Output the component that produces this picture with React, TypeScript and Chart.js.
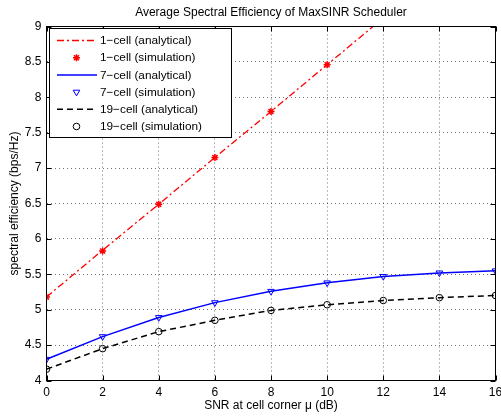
import React, { useEffect, useRef } from 'react';
import { Chart, registerables } from 'chart.js';
import { drawPoint } from 'chart.js/helpers';

Chart.register(...registerables);

const snrDb = [0, 2, 4, 6, 8, 10, 12, 14, 16];
const oneCellAnalytical = [5.18, 5.84, 6.49, 7.15, 7.8, 8.46, 9.12, 9.78, 10.43];
const oneCellSimulation = [5.18, 5.83, 6.49, 7.15, 7.8, 8.46, 9.12, 9.78, 10.43];
const sevenCellAnalytical = [4.3, 4.62, 4.89, 5.1, 5.26, 5.38, 5.47, 5.52, 5.55];
const sevenCellSimulation = [4.3, 4.62, 4.89, 5.1, 5.26, 5.38, 5.47, 5.52, 5.55];
const nineteenCellAnalytical = [4.16, 4.45, 4.69, 4.85, 4.99, 5.07, 5.13, 5.17, 5.2];
const nineteenCellSimulation = [4.16, 4.45, 4.69, 4.85, 4.99, 5.07, 5.13, 5.17, 5.2];
const xTicks = [0, 2, 4, 6, 8, 10, 12, 14, 16];
const yTicks = [4, 4.5, 5, 5.5, 6, 6.5, 7, 7.5, 8, 8.5, 9];
const legendLabels = [
  '1\u2212cell (analytical)',
  '1\u2212cell (simulation)',
  '7\u2212cell (analytical)',
  '7\u2212cell (simulation)',
  '19\u2212cell (analytical)',
  '19\u2212cell (simulation)',
];

const FONT = '"Liberation Sans", Arial, Helvetica, sans-serif';

const pts = (ys: number[]) => snrDb.map((x, i) => ({ x, y: ys[i] }));

const framePlugin = {
  id: 'frameAndLegend',
  afterDatasetsDraw(chart: any) {
    const { ctx, chartArea: a, scales } = chart;
    ctx.save();
    ctx.strokeStyle = '#000';
    ctx.lineWidth = 1;
    ctx.setLineDash([]);
    ctx.beginPath();
    xTicks.forEach((v) => {
      const px = Math.round(scales.x.getPixelForValue(v)) + 0.5;
      ctx.moveTo(px, a.bottom);
      ctx.lineTo(px, a.bottom - 5);
      ctx.moveTo(px, a.top);
      ctx.lineTo(px, a.top + 5);
    });
    yTicks.forEach((v) => {
      const py = Math.round(scales.y.getPixelForValue(v)) + 0.5;
      ctx.moveTo(a.left, py);
      ctx.lineTo(a.left + 5, py);
      ctx.moveTo(a.right, py);
      ctx.lineTo(a.right - 5, py);
    });
    ctx.stroke();
    ctx.strokeRect(a.left, a.top, a.right - a.left, a.bottom - a.top);

    // legend
    const bx = 49.5, by = 28.5, bw = 182, bh = 109;
    ctx.fillStyle = '#fff';
    ctx.fillRect(bx, by, bw, bh);
    ctx.strokeStyle = '#000';
    ctx.lineWidth = 1;
    ctx.strokeRect(bx, by, bw, bh);
    const ds = chart.data.datasets;
    ctx.font = '11.8px ' + FONT;
    ctx.textBaseline = 'middle';
    ctx.textAlign = 'left';
    for (let i = 0; i < legendLabels.length; i++) {
      const y = 40.5 + i * 17.2;
      const d = ds[i];
      if (d.showLine !== false) {
        ctx.save();
        ctx.strokeStyle = d.borderColor;
        ctx.lineWidth = d.borderWidth;
        ctx.setLineDash(d.borderDash || []);
        ctx.beginPath();
        ctx.moveTo(57, y);
        ctx.lineTo(97, y);
        ctx.stroke();
        ctx.restore();
      } else {
        ctx.save();
        ctx.strokeStyle = d.pointBorderColor;
        ctx.fillStyle = 'rgba(0,0,0,0)';
        ctx.lineWidth = d.pointBorderWidth;
        drawPoint(ctx, {
          pointStyle: d.pointStyle,
          radius: d.pointRadius,
          rotation: d.pointRotation || 0,
          borderWidth: d.pointBorderWidth,
        } as any, 76.5, y);
        ctx.restore();
      }
      ctx.fillStyle = '#000';
      ctx.fillText(legendLabels[i], 100, y + 0.5);
    }
    ctx.restore();
  },
};

export default function App() {
  const ref = useRef<HTMLCanvasElement>(null);
  useEffect(() => {
    if (!ref.current) return;
    const chart = new Chart(ref.current, {
      type: 'scatter',
      data: {
        datasets: [
          {
            label: legendLabels[0],
            data: pts(oneCellAnalytical),
            showLine: true,
            borderColor: '#ff0000',
            borderWidth: 1.3,
            borderDash: [7, 3, 2, 3],
            pointRadius: 0,
          },
          {
            label: legendLabels[1],
            data: pts(oneCellSimulation),
            showLine: false,
            pointStyle: 'star',
            pointRadius: 3.5,
            pointBorderColor: '#ff0000',
            pointBackgroundColor: 'rgba(0,0,0,0)',
            pointBorderWidth: 1.5,
          },
          {
            label: legendLabels[2],
            data: pts(sevenCellAnalytical),
            showLine: true,
            borderColor: '#0000ff',
            borderWidth: 1.5,
            pointRadius: 0,
          },
          {
            label: legendLabels[3],
            data: pts(sevenCellSimulation),
            showLine: false,
            pointStyle: 'triangle',
            pointRotation: 180,
            pointRadius: 3.8,
            pointBorderColor: '#0000ff',
            pointBackgroundColor: 'rgba(0,0,0,0)',
            pointBorderWidth: 1,
          },
          {
            label: legendLabels[4],
            data: pts(nineteenCellAnalytical),
            showLine: true,
            borderColor: '#000000',
            borderWidth: 1.5,
            borderDash: [6, 4],
            pointRadius: 0,
          },
          {
            label: legendLabels[5],
            data: pts(nineteenCellSimulation),
            showLine: false,
            pointStyle: 'circle',
            pointRadius: 3.3,
            pointBorderColor: '#000000',
            pointBackgroundColor: 'rgba(0,0,0,0)',
            pointBorderWidth: 1,
          },
        ] as any,
      },
      options: {
        animation: false,
        responsive: false,
        layout: { padding: { left: 0, right: 4.5, top: 0, bottom: 0 } },
        plugins: {
          legend: { display: false },
          tooltip: { enabled: false },
          title: {
            display: true,
            fullSize: false,
            text: 'Average Spectral Efficiency of MaxSINR Scheduler',
            color: '#000',
            font: { family: FONT, size: 12, weight: 'normal' as any },
            padding: { top: 5.5, bottom: 6.6 },
          },
        },
        scales: {
          x: {
            type: 'linear',
            min: 0,
            max: 16,
            afterBuildTicks: (s: any) => {
              s.ticks = xTicks.map((v) => ({ value: v }));
            },
            afterFit: (s: any) => {
              s.height = 35.5;
              s.paddingRight = 0;
              s.paddingLeft = 0;
            },
            grid: {
              color: 'rgba(0,0,0,0.55)',
              lineWidth: 1,
              drawTicks: false,
            },
            border: { display: false, dash: [1, 3] },
            ticks: {
              color: '#000',
              padding: 5,
              maxRotation: 0,
              font: { family: FONT, size: 12 },
            },
            title: {
              display: true,
              text: 'SNR at cell corner \u03bc (dB)',
              color: '#000',
              font: { family: FONT, size: 12 },
              padding: { top: 0, bottom: 3.5 },
            },
          },
          y: {
            type: 'linear',
            min: 4,
            max: 9,
            afterBuildTicks: (s: any) => {
              s.ticks = yTicks.map((v) => ({ value: v }));
            },
            afterFit: (s: any) => {
              s.width = 46.5;
            },
            grid: {
              color: 'rgba(0,0,0,0.55)',
              lineWidth: 1,
              drawTicks: false,
            },
            border: { display: false, dash: [1, 3] },
            ticks: {
              color: '#000',
              padding: 5,
              font: { family: FONT, size: 12 },
              callback: (v: any) => String(v),
            },
            title: {
              display: true,
              text: 'spectral efficiency (bps/Hz)',
              color: '#000',
              font: { family: FONT, size: 12 },
              padding: { top: 7.5, bottom: 0 },
            },
          },
        },
      },
      plugins: [framePlugin],
    });
    return () => chart.destroy();
  }, []);
  return (
    <div style={{ position: 'fixed', left: 0, top: 0, width: 501, height: 416, overflow: 'hidden', background: '#fff' }}>
      <canvas ref={ref} width={501} height={416} style={{ width: 501, height: 416, display: 'block' }} />
    </div>
  );
}
